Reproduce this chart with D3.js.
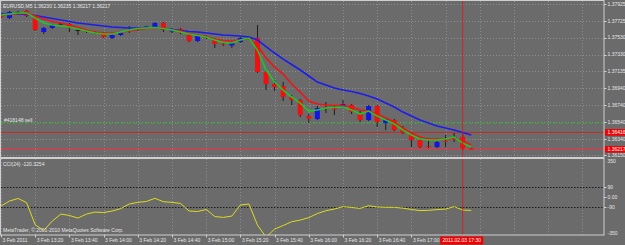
<!DOCTYPE html>
<html>
<head>
<meta charset="utf-8">
<script src="https://cdn.jsdelivr.net/npm/d3@7"></script>
<style>
  html, body { margin: 0; padding: 0; background: #6b6b6b; }
  svg { display: block; font-family: "Liberation Sans", Arial, sans-serif; }
</style>
</head>
<body>
<div id="chart"></div>
<script>
// EURUSD M5, 3 Feb 2011, bars from 13:00 every 5 minutes
const symbolTitle = 'EURUSD,M5  1.36230 1.36235 1.36217 1.36217';
const barStart = new Date(2011, 1, 3, 13, 0);

const barOpen = [1.37807, 1.37760, 1.37831, 1.37843, 1.37772, 1.37596, 1.37643, 1.37696, 1.37690, 1.37619,
  1.37608, 1.37596, 1.37584, 1.37525, 1.37561, 1.37608, 1.37631, 1.37643, 1.37643, 1.37702,
  1.37602, 1.37631, 1.37561, 1.37490, 1.37549, 1.37514, 1.37461, 1.37437, 1.37478, 1.37531,
  1.37525, 1.37126, 1.36985, 1.36961, 1.36832, 1.36797, 1.36608, 1.36573, 1.36714, 1.36702,
  1.36714, 1.36738, 1.36644, 1.36561, 1.36726, 1.36526, 1.36561, 1.36467, 1.36397, 1.36326,
  1.36256, 1.36244, 1.36315, 1.36350, 1.36362, 1.36230];
const barHigh = [1.37819, 1.37843, 1.37843, 1.37854, 1.37796, 1.37655, 1.37690, 1.37713, 1.37702, 1.37631,
  1.37619, 1.37608, 1.37596, 1.37572, 1.37596, 1.37666, 1.37643, 1.37666, 1.37713, 1.37713,
  1.37643, 1.37643, 1.37572, 1.37561, 1.37561, 1.37525, 1.37478, 1.37478, 1.37537, 1.37549,
  1.37678, 1.37149, 1.37032, 1.37008, 1.36855, 1.36808, 1.36632, 1.36726, 1.36773, 1.36738,
  1.36797, 1.36749, 1.36667, 1.36738, 1.36738, 1.36585, 1.36573, 1.36491, 1.36420, 1.36338,
  1.36326, 1.36315, 1.36385, 1.36409, 1.36409, 1.36235];
const barLow = [1.37760, 1.37749, 1.37819, 1.37772, 1.37608, 1.37572, 1.37631, 1.37678, 1.37596, 1.37561,
  1.37584, 1.37572, 1.37525, 1.37514, 1.37549, 1.37584, 1.37608, 1.37631, 1.37631, 1.37596,
  1.37584, 1.37572, 1.37478, 1.37478, 1.37514, 1.37408, 1.37431, 1.37408, 1.37467, 1.37514,
  1.37114, 1.36914, 1.36902, 1.36785, 1.36738, 1.36597, 1.36526, 1.36561, 1.36644, 1.36620,
  1.36702, 1.36632, 1.36538, 1.36550, 1.36479, 1.36444, 1.36432, 1.36397, 1.36244, 1.36232,
  1.36232, 1.36232, 1.36244, 1.36303, 1.36209, 1.36217];
const barClose = [1.37772, 1.37831, 1.37827, 1.37784, 1.37619, 1.37643, 1.37678, 1.37690, 1.37643, 1.37613,
  1.37596, 1.37584, 1.37537, 1.37561, 1.37584, 1.37619, 1.37625, 1.37660, 1.37702, 1.37619,
  1.37631, 1.37584, 1.37490, 1.37549, 1.37525, 1.37455, 1.37449, 1.37467, 1.37525, 1.37525,
  1.37126, 1.36985, 1.36949, 1.36832, 1.36797, 1.36620, 1.36579, 1.36702, 1.36691, 1.36685,
  1.36749, 1.36655, 1.36561, 1.36726, 1.36538, 1.36573, 1.36444, 1.36409, 1.36326, 1.36244,
  1.36248, 1.36303, 1.36305, 1.36362, 1.36232, 1.36217];

// moving averages drawn over the candles
const maSlow = [1.37807, 1.37807, 1.37807, 1.37802, 1.37790, 1.37772, 1.37755, 1.37737, 1.37719, 1.37702,
  1.37690, 1.37678, 1.37666, 1.37655, 1.37649, 1.37643, 1.37643, 1.37643, 1.37643, 1.37637,
  1.37625, 1.37613, 1.37602, 1.37596, 1.37584, 1.37572, 1.37561, 1.37555, 1.37549, 1.37537,
  1.37502, 1.37425, 1.37349, 1.37278, 1.37214, 1.37149, 1.37079, 1.37008, 1.36973, 1.36938,
  1.36914, 1.36896, 1.36873, 1.36844, 1.36808, 1.36761, 1.36714, 1.36655, 1.36608, 1.36561,
  1.36526, 1.36491, 1.36467, 1.36444, 1.36414, 1.36385];
const maMid = [1.37796, 1.37802, 1.37813, 1.37813, 1.37784, 1.37749, 1.37719, 1.37702, 1.37678, 1.37649,
  1.37619, 1.37596, 1.37584, 1.37584, 1.37596, 1.37608, 1.37625, 1.37637, 1.37643, 1.37637,
  1.37619, 1.37608, 1.37578, 1.37561, 1.37543, 1.37514, 1.37496, 1.37490, 1.37502, 1.37519,
  1.37437, 1.37290, 1.37184, 1.37102, 1.36985, 1.36891, 1.36785, 1.36749, 1.36738, 1.36732,
  1.36732, 1.36714, 1.36679, 1.36667, 1.36632, 1.36585, 1.36538, 1.36467, 1.36409, 1.36362,
  1.36338, 1.36338, 1.36338, 1.36344, 1.36315, 1.36268];
const maFast = [1.37796, 1.37807, 1.37819, 1.37819, 1.37760, 1.37702, 1.37678, 1.37666, 1.37655, 1.37631,
  1.37608, 1.37584, 1.37572, 1.37572, 1.37596, 1.37619, 1.37637, 1.37643, 1.37649, 1.37637,
  1.37619, 1.37596, 1.37572, 1.37555, 1.37537, 1.37502, 1.37472, 1.37467, 1.37502, 1.37525,
  1.37384, 1.37149, 1.37008, 1.36914, 1.36832, 1.36761, 1.36667, 1.36679, 1.36702, 1.36708,
  1.36714, 1.36679, 1.36632, 1.36667, 1.36608, 1.36561, 1.36514, 1.36444, 1.36385, 1.36338,
  1.36326, 1.36326, 1.36338, 1.36362, 1.36291, 1.36244];

// CCI(24) sub window
const cciValues = [-81, -36, -13, -51, -250, -300, -216, -153, -166, -189,
  -153, -135, -140, -126, -104, -63, -48, -40, -12, -42,
  -48, -58, -126, -130, -112, -175, -183, -171, -72, -63,
  -252, -360, -288, -256, -222, -207, -185, -149, -123, -108,
  -87, -94, -102, -78, -90, -93, -93, -100, -112, -122,
  -120, -113, -108, -87, -117, -120.3254];
const cciLevels = [90, -90];
const cciAxisTicks = [350, 90, 0, -90, -350];

const priceTicks = [1.37925, 1.37725, 1.37530, 1.37330, 1.37135, 1.36940, 1.36740, 1.36540, 1.36340, 1.36150];
const timeTickLabels = ['3 Feb 2011', '3 Feb 13:20', '3 Feb 13:40', '3 Feb 14:00', '3 Feb 14:20', '3 Feb 14:40',
  '3 Feb 15:00', '3 Feb 15:20', '3 Feb 15:40', '3 Feb 16:00', '3 Feb 16:20', '3 Feb 16:40', '3 Feb 17:00'];

const orderPrice = 1.36523, orderLabel = '#418148 sell';
const levelPrice = 1.36416;
const bidPrice = 1.36217;
const markerTime = new Date(2011, 1, 3, 17, 30), markerLabel = '2011.02.03 17:30';

const W = 625, H = 245;
const plotLeft = 1, plotRight = 604;
const mainTop = 1, mainBottom = 157;
const subTop = 159, subBottom = 235;
const textColor = '#e6e6e6';

const svg = d3.select('#chart').append('svg')
  .attr('width', W)
  .attr('height', H)
  .style('font-size', '5px');

svg.append('rect').attr('width', W).attr('height', H).attr('fill', '#6b6b6b');

const times = barOpen.map((d, i) => d3.timeMinute.offset(barStart, 5 * i));
const barStep = 8.55;

const x = d3.scaleTime()
  .domain([times[0], times[times.length - 1]])
  .range([1, 1 + barStep * (times.length - 1)]);
const y = d3.scaleLinear().domain([1.36127, 1.37972]).range([157, 0]);
const yc = d3.scaleLinear().domain([-350, 350]).range([236, 158]);

const defs = svg.append('defs');
defs.append('clipPath').attr('id', 'clip-main')
  .append('rect').attr('x', plotLeft).attr('y', mainTop).attr('width', plotRight - plotLeft).attr('height', mainBottom - mainTop);
defs.append('clipPath').attr('id', 'clip-sub')
  .append('rect').attr('x', plotLeft).attr('y', subTop).attr('width', plotRight - plotLeft).attr('height', subBottom - subTop);

// grid
const gridTimes = d3.timeMinute.every(20).range(barStart, d3.timeMinute.offset(barStart, 360));
const grid = svg.append('g')
  .attr('stroke', '#a3a3b3')
  .attr('stroke-width', 0.8)
  .attr('stroke-dasharray', '1,2')
  .attr('opacity', 0.75);

grid.selectAll('.vmain').data(gridTimes).join('line')
  .attr('x1', d => Math.round(x(d)) + 0.5).attr('x2', d => Math.round(x(d)) + 0.5)
  .attr('y1', mainTop).attr('y2', mainBottom);
grid.selectAll('.vsub').data(gridTimes).join('line')
  .attr('class', 'vsub')
  .attr('x1', d => Math.round(x(d)) + 0.5).attr('x2', d => Math.round(x(d)) + 0.5)
  .attr('y1', subTop).attr('y2', subBottom);
grid.selectAll('.h').data(priceTicks).join('line')
  .attr('class', 'h')
  .attr('x1', plotLeft).attr('x2', plotRight)
  .attr('y1', d => Math.round(y(d)) + 0.5).attr('y2', d => Math.round(y(d)) + 0.5);

// CCI levels
svg.append('g').selectAll('line').data(cciLevels).join('line')
  .attr('x1', plotLeft).attr('x2', plotRight)
  .attr('y1', d => Math.round(yc(d)) + 0.5).attr('y2', d => Math.round(yc(d)) + 0.5)
  .attr('stroke', '#1c1c1c')
  .attr('stroke-dasharray', '1.5,1.5');

// order / price lines
const main = svg.append('g').attr('clip-path', 'url(#clip-main)');
main.append('line')
  .attr('x1', plotLeft).attr('x2', plotRight)
  .attr('y1', y(orderPrice)).attr('y2', y(orderPrice))
  .attr('stroke', '#22b822').attr('stroke-dasharray', '3,3');
main.append('line')
  .attr('x1', plotLeft).attr('x2', plotRight)
  .attr('y1', y(levelPrice)).attr('y2', y(levelPrice))
  .attr('stroke', '#d42020').attr('stroke-width', 0.9);
main.append('line')
  .attr('x1', plotLeft).attr('x2', plotRight)
  .attr('y1', y(bidPrice)).attr('y2', y(bidPrice))
  .attr('stroke', '#e03848').attr('stroke-width', 1.4);

// candles
const bars = times.map((t, i) => ({ t, o: barOpen[i], h: barHigh[i], l: barLow[i], c: barClose[i] }));
const candle = main.selectAll('g.bar').data(bars).join('g').attr('class', 'bar');
candle.append('line')
  .attr('x1', d => x(d.t)).attr('x2', d => x(d.t))
  .attr('y1', d => y(d.h)).attr('y2', d => y(d.l))
  .attr('stroke', '#1e1e1e');
candle.append('rect')
  .attr('x', d => x(d.t) - 2.5)
  .attr('width', 5)
  .attr('y', d => y(Math.max(d.o, d.c)))
  .attr('height', d => Math.max(1, Math.abs(y(d.o) - y(d.c))))
  .attr('fill', d => {
    if (Math.abs(d.o - d.c) < 0.00008) return '#1e1e1e';
    return d.c > d.o ? '#1414e6' : '#f01010';
  });

// moving averages
const maLine = d3.line().x((d, i) => x(times[i])).y(d => y(d));
[[maSlow, '#1c1cf0'], [maMid, '#f01414'], [maFast, '#22c42a']].forEach(([vals, color]) => {
  main.append('path')
    .datum(vals)
    .attr('fill', 'none')
    .attr('stroke', color)
    .attr('stroke-width', 1.6)
    .attr('d', maLine);
});

// CCI line
svg.append('g').attr('clip-path', 'url(#clip-sub)')
  .append('path')
  .datum(cciValues)
  .attr('fill', 'none')
  .attr('stroke', '#dcdc1e')
  .attr('stroke-width', 1)
  .attr('d', d3.line().x((d, i) => x(times[i])).y(d => yc(d)));

// vertical marker
svg.append('line')
  .attr('x1', x(markerTime)).attr('x2', x(markerTime))
  .attr('y1', mainTop).attr('y2', subBottom)
  .attr('stroke', '#d81c1c').attr('stroke-width', 0.9);

// frame
const frame = svg.append('g').attr('stroke', '#cfcfcf').attr('fill', 'none');
frame.append('rect').attr('x', 0.5).attr('y', 0.5).attr('width', plotRight - 0.5).attr('height', mainBottom);
frame.append('rect').attr('x', 0.5).attr('y', subTop - 0.5).attr('width', plotRight - 0.5).attr('height', subBottom - subTop + 0.5);

// price axis
const pAxis = svg.append('g');
pAxis.selectAll('line').data(priceTicks).join('line')
  .attr('x1', plotRight).attr('x2', plotRight + 2.5)
  .attr('y1', d => Math.round(y(d)) + 0.5).attr('y2', d => Math.round(y(d)) + 0.5)
  .attr('stroke', '#cfcfcf');
pAxis.selectAll('text').data(priceTicks).join('text')
  .attr('x', plotRight + 3.5)
  .attr('y', d => y(d) + 1.8)
  .attr('fill', textColor)
  .text(d => d.toFixed(5));

// price tags
[levelPrice, bidPrice].forEach(p => {
  svg.append('rect')
    .attr('x', plotRight + 1).attr('y', y(p) - 3.3)
    .attr('width', W - plotRight - 1).attr('height', 6.6)
    .attr('fill', '#f00000');
  svg.append('text')
    .attr('x', plotRight + 3.5).attr('y', y(p) + 1.8)
    .attr('fill', '#ffffff')
    .text(p.toFixed(5));
});

// CCI axis
const cAxis = svg.append('g');
cAxis.selectAll('text').data(cciAxisTicks).join('text')
  .attr('x', plotRight + 3.5)
  .attr('y', d => yc(d) + 1.8 + (d === 350 ? 3 : d === -350 ? -3 : 0))
  .attr('fill', textColor)
  .text(d => d === 0 ? '0.00' : String(d));
cAxis.selectAll('line').data(cciAxisTicks.filter(d => Math.abs(d) < 350)).join('line')
  .attr('x1', plotRight).attr('x2', plotRight + 2.5)
  .attr('y1', d => Math.round(yc(d)) + 0.5).attr('y2', d => Math.round(yc(d)) + 0.5)
  .attr('stroke', '#cfcfcf');

// time axis
const labelTimes = gridTimes.slice(0, timeTickLabels.length);
const tAxis = svg.append('g');
tAxis.selectAll('line').data(labelTimes).join('line')
  .attr('x1', d => Math.round(x(d)) + 0.5).attr('x2', d => Math.round(x(d)) + 0.5)
  .attr('y1', subBottom).attr('y2', subBottom + 2.5)
  .attr('stroke', '#cfcfcf');
tAxis.selectAll('text').data(labelTimes).join('text')
  .attr('x', d => x(d) + 1.5)
  .attr('y', 242)
  .attr('fill', textColor)
  .text((d, i) => timeTickLabels[i]);

svg.append('rect')
  .attr('x', x(markerTime) - 22.5).attr('y', 236.5)
  .attr('width', 43).attr('height', 8)
  .attr('fill', '#f00000');
svg.append('text')
  .attr('x', x(markerTime) - 1).attr('y', 242.3)
  .attr('text-anchor', 'middle')
  .attr('fill', '#ffffff')
  .text(markerLabel);

// window texts
svg.append('text').attr('x', 3).attr('y', 7.5).attr('fill', textColor).text(symbolTitle);
svg.append('text').attr('x', 4).attr('y', y(orderPrice) - 1.3).attr('fill', textColor).text(orderLabel);
svg.append('text').attr('x', 3).attr('y', 165.5).attr('fill', textColor).text('CCI(24) -120.3254');
svg.append('text').attr('x', 3).attr('y', 232).attr('fill', textColor)
  .text('MetaTrader, \u00a9 2001-2010 MetaQuotes Software Corp.');
</script>
</body>
</html>
